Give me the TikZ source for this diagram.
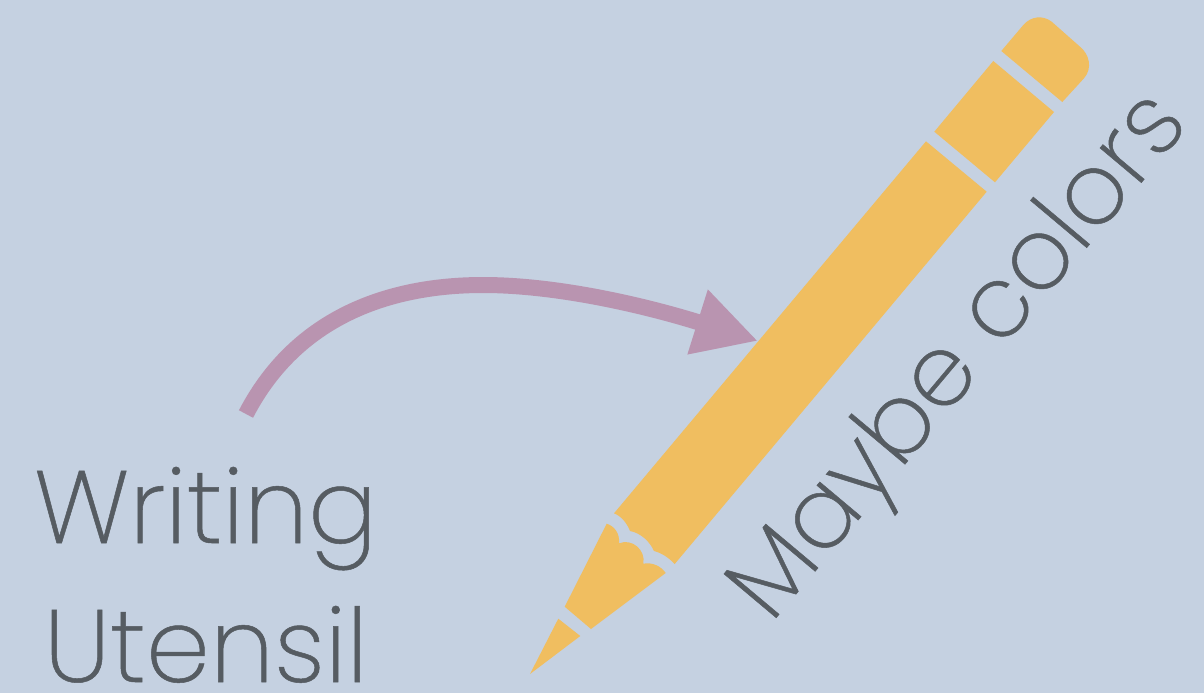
\documentclass[tikz,border=0pt]{standalone}
\usepackage{fontspec}
\setmainfont{Poppins}[UprightFont=* ExtraLight,UprightFeatures={FakeBold=0.5}]
\usetikzlibrary{arrows.meta}
\definecolor{bgc}{HTML}{C5D1E1}
\definecolor{pen}{HTML}{F0BE60}
\definecolor{arr}{HTML}{B994B0}
\definecolor{txt}{HTML}{565C62}
\tikzset{
  pencil/.style={fill=pen,draw=none},
  label/.style={text=txt,inner sep=0pt,outer sep=0pt,font=\fontsize{77}{77}\selectfont},
  labelb/.style={text=txt,inner sep=0pt,outer sep=0pt,font=\fontsize{74.5}{74.5}\selectfont},
  pointer/.style={draw=arr,line width=12pt,-{Triangle[length=47.5pt,width=47.5pt]}}
}
\begin{document}
\begin{tikzpicture}[x=0.75pt,y=-0.75pt]
\useasboundingbox (0,0) rectangle (1204,693);
\fill[bgc] (0,0) rectangle (1204,693);
% pencil
\fill[pencil] (530,674) -- (558.3,618.7) -- (580.3,636) -- cycle;
\fill[pencil] (564.7,606.7) -- (606.7,523.7) .. controls (614,526) and (620,533) .. (619,543.3)
  .. controls (632,538) and (646,550) .. (643.3,563.7)
  .. controls (652,562) and (661,566) .. (665.7,573) -- (591,629) -- cycle;
\fill[pencil] (614,513.3) .. controls (621,516) and (627,523) .. (630,531)
  .. controls (641,533) and (650,542) .. (654,551)
  .. controls (662,553) and (669,558) .. (674.7,564)
  -- (986.7,191.7) -- (926,141.3) -- cycle;
\fill[pencil] (934.3,131.7) -- (995,182.3) -- (1054,112) -- (993.3,61) -- cycle;
\fill[pencil] (1001.3,51) -- (1023.3,25) .. controls (1031,16) and (1043,15) .. (1051.7,21.7)
  -- (1080,46.7) .. controls (1089,54) and (1093,68) .. (1084,78.3)
  -- (1062.3,102) -- cycle;
% labels
\node[label,anchor=base west] (writing) at (34,543) {Writing};
\node[label,anchor=base west] (utensil) at (44,682) {Utensil};
\node[labelb,anchor=base west,rotate=50] (maybe) at (771,624) {Maybe colors};
% arrow
\coordinate (from) at (246,414);
\coordinate (to) at (758,341);
\draw[pointer] (from) .. controls (300,310) and (400,285) .. (483,285)
  .. controls (560,285) and (650,307) .. (to);
\end{tikzpicture}
\end{document}
